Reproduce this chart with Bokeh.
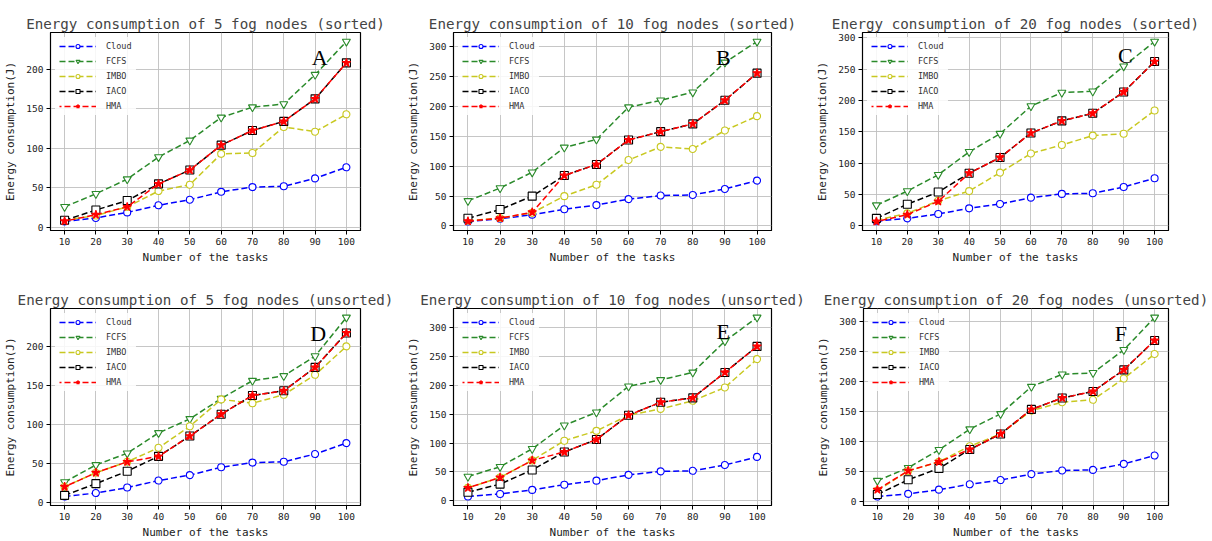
from bokeh.plotting import figure
from bokeh.layouts import column, row
from bokeh.models import Range1d, FixedTicker, Label
from bokeh.embed import file_html
from bokeh.resources import INLINE

tasks = [10, 20, 30, 40, 50, 60, 70, 80, 90, 100]
cloud = [7.5, 12, 19, 28, 35, 45, 51, 52, 62, 76]

# (A) 5 fog nodes, sorted
fcfs_a = [26, 42.5, 61, 89, 110, 139, 152, 156, 193, 235]
imbo_a = [9, 15, 26, 46, 54, 93, 94, 127, 121, 143]
iaco_a = [9, 22, 34, 55, 72.5, 104, 122.5, 134, 162.5, 208]
hma_a = [8, 16, 26, 55, 72.5, 104, 122.5, 134, 162.5, 208]

# (B) 10 fog nodes, sorted
fcfs_b = [42, 63.5, 90, 131.5, 145, 199, 210.5, 224, 274, 309]
imbo_b = [9, 13, 22, 50, 69, 110.5, 132.5, 129, 160, 184]
iaco_b = [13, 27.5, 50, 84.5, 103, 144, 158, 171, 210.5, 256]
hma_b = [8, 13, 23, 84.5, 103, 144, 158, 171, 210.5, 256]

# (C) 20 fog nodes, sorted
fcfs_c = [33, 55.5, 81.5, 118, 147, 191, 212.5, 214.5, 254.5, 294]
imbo_c = [9, 20, 40, 55.5, 85, 115.5, 129, 144, 147, 184]
iaco_c = [12, 34.5, 54, 84, 109, 148, 167.5, 179.5, 213.5, 262]
hma_c = [7, 18, 39, 84, 109, 148, 167.5, 179.5, 213.5, 262]

# (D) 5 fog nodes, unsorted
fcfs_d = [26, 48, 63, 89, 107, 133, 156, 162, 187.5, 237]
imbo_d = [20, 38, 52, 70, 97.5, 132, 127, 138, 163.5, 200]
iaco_d = [9, 24, 40, 59, 85, 113, 137, 143, 173, 217]
hma_d = [20, 38, 52, 59, 85, 113, 137, 143, 173, 217]

# (E) 10 fog nodes, unsorted
fcfs_e = [42, 59, 90, 130.5, 153, 198, 209, 222, 276, 317]
imbo_e = [22.5, 40.5, 70, 104, 121, 148, 159, 173, 196, 245]
iaco_e = [15, 29, 53.5, 84.5, 106, 148, 170.5, 178, 222, 267]
hma_e = [22.5, 40.5, 70, 84.5, 106, 148, 170.5, 178, 222, 267]

# (F) 20 fog nodes, unsorted
fcfs_f = [34, 55.5, 85.5, 120, 145.5, 191, 211.5, 214, 252.5, 306.5]
imbo_f = [17.5, 50, 65.5, 91.5, 112, 151, 165, 169, 204.5, 245.5]
iaco_f = [11, 35.5, 54.5, 86, 112, 153, 172, 183, 219, 268]
hma_f = [19, 50.5, 65.5, 86, 112, 153, 172, 183, 219, 268]

titles = [
    "Energy consumption of 5 fog nodes (sorted)",
    "Energy consumption of 10 fog nodes (sorted)",
    "Energy consumption of 20 fog nodes (sorted)",
    "Energy consumption of 5 fog nodes (unsorted)",
    "Energy consumption of 10 fog nodes (unsorted)",
    "Energy consumption of 20 fog nodes (unsorted)",
]
letters = ["A", "B", "C", "D", "E", "F"]
letter_x = [91.5, 89.5, 90.5, 91, 89.5, 89]
letter_y = [215, 283, 272, 216, 293, 280]
series_names = ["Cloud", "FCFS", "IMBO", "IACO", "HMA"]
x_label = "Number of the tasks"
y_label = "Energy consumption(J)"
yticks_small = [0, 50, 100, 150, 200]
yticks_big = [0, 50, 100, 150, 200, 250, 300]

panels = [
    [cloud, fcfs_a, imbo_a, iaco_a, hma_a],
    [cloud, fcfs_b, imbo_b, iaco_b, hma_b],
    [cloud, fcfs_c, imbo_c, iaco_c, hma_c],
    [cloud, fcfs_d, imbo_d, iaco_d, hma_d],
    [cloud, fcfs_e, imbo_e, iaco_e, hma_e],
    [cloud, fcfs_f, imbo_f, iaco_f, hma_f],
]
panel_yticks = [yticks_small, yticks_big, yticks_big, yticks_small, yticks_big, yticks_big]

# geometry: width, height, left, right, top, bottom
geoms = [
    (404, 270, 50, 44, 30, 40),
    (404, 270, 47, 37, 30, 40),
    (404, 270, 54, 44, 32, 40),
    (404, 271, 50, 44, 37, 34),
    (404, 271, 47, 37, 37, 34),
    (404, 271, 55, 44, 38, 34),
]
red_offsets = [4, 0, 4, 4, 4, 0]

styles = [
    dict(color="#0000ff", marker="circle", size=7, fill="white"),
    dict(color="#2a8a2a", marker="inverted_triangle", size=8, fill="white"),
    dict(color="#c8c820", marker="circle", size=7, fill="white"),
    dict(color="#000000", marker="square", size=8, fill="white"),
    dict(color="#ff0000", marker="star", size=9, fill="#ff0000"),
]

MONO = "DejaVu Sans Mono"


def make_panel(i):
    w, h, left, right, top, bottom = geoms[i]
    data = panels[i]
    allv = [v for s in data for v in s]
    lo, hi = min(allv), max(allv)
    m = 0.05 * (hi - lo)
    p = figure(width=w, height=h, output_backend="svg", toolbar_location=None,
               x_range=Range1d(5.5, 104.5), y_range=Range1d(lo - m, hi + m),
               min_border_left=left, min_border_right=right,
               min_border_top=top, min_border_bottom=bottom,
               title=titles[i])
    p.title.text_font = MONO
    p.title.text_font_size = "14.2px"
    p.title.text_font_style = "normal"
    p.title.align = "center"
    p.title.standoff = 2
    p.outline_line_color = "black"
    p.outline_line_width = 1.2
    p.background_fill_color = "white"
    p.border_fill_color = "white"

    for k, (name, vals, st) in enumerate(zip(series_names, data, styles)):
        off = red_offsets[i] if k == 4 else 0
        p.line(tasks, vals, line_color=st["color"], line_width=1.5, line_dash="6 3",
               line_dash_offset=off, legend_label=name)
        p.scatter(tasks, vals, marker=st["marker"], size=st["size"],
                  line_color=st["color"], fill_color=st["fill"], line_width=1.1,
                  legend_label=name)

    for ax in (p.xaxis[0], p.yaxis[0]):
        ax.major_label_text_font = MONO
        ax.major_label_text_font_size = "9.5px"
        ax.major_label_text_color = "#222222"
        ax.axis_label_text_font = MONO
        ax.axis_label_text_font_size = "11px"
        ax.axis_label_text_font_style = "normal"
        ax.axis_label_text_color = "#222222"
        ax.minor_tick_line_color = None
        ax.major_tick_in = 0
        ax.major_tick_out = 4
        ax.major_label_standoff = 3
        ax.axis_line_color = "black"
    p.xaxis[0].ticker = FixedTicker(ticks=tasks)
    p.yaxis[0].ticker = FixedTicker(ticks=panel_yticks[i])
    p.xaxis[0].axis_label = x_label
    p.yaxis[0].axis_label = y_label
    p.xaxis[0].axis_label_standoff = 3
    p.yaxis[0].axis_label_standoff = 6

    p.xgrid.grid_line_color = "#c0c0c0"
    p.ygrid.grid_line_color = "#c0c0c0"
    p.xgrid.grid_line_width = 0.9
    p.ygrid.grid_line_width = 0.9

    lg = p.legend[0]
    lg.location = "top_left"
    lg.label_text_font = MONO
    lg.label_text_font_size = "8.5px"
    lg.label_text_color = "#333333"
    lg.glyph_width = 37
    lg.glyph_height = 10
    lg.label_height = 10
    lg.spacing = 5
    lg.padding = 4
    lg.margin = 5
    lg.label_standoff = 10
    lg.border_line_alpha = 0
    lg.background_fill_alpha = 0.85

    p.add_layout(Label(x=letter_x[i], y=letter_y[i], text=letters[i],
                       text_font="Liberation Serif", text_font_size="22px",
                       text_align="center", text_baseline="middle", text_color="black"))
    return p


figs = [make_panel(i) for i in range(6)]
layout = column(row(*figs[:3], spacing=0), row(*figs[3:], spacing=0), spacing=0)

open("out.html", "w").write(file_html(layout, INLINE))
